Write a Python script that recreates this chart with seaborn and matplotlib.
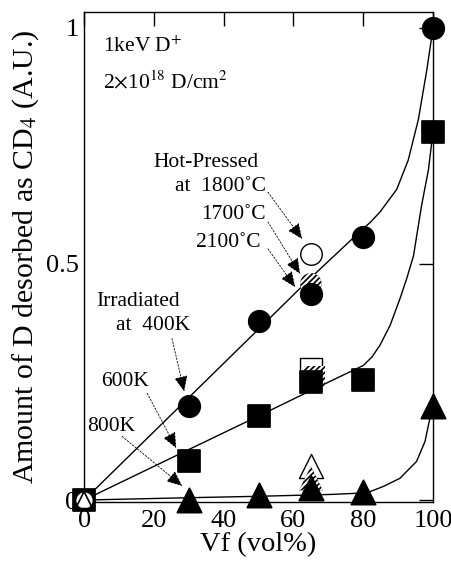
import matplotlib
matplotlib.use("Agg")
import matplotlib.pyplot as plt
import seaborn as sns
import pandas as pd

# ---- data ----
vf = [0, 30, 50, 65, 80, 100]
irr_400K = [0, 0.20, 0.38, 0.437, 0.557, 1.0]
irr_600K = [0, 0.082, 0.177, 0.25, 0.255, 0.78]
irr_800K = [0, 0.0, 0.011, 0.025, 0.018, 0.20]

hp_vf = [65]
hp1800_400 = [0.521]
hp1800_600 = [0.278]
hp1800_800 = [0.072]
hp1700_vf_sq = [66]
hp1700_400 = [0.458]
hp1700_600 = [0.261]
hp1700_800 = [0.046]

# fitted curves
fit400_x = [0, 30, 50, 65, 80, 82, 84.8, 87, 89.6, 92.9, 95.8, 98.2, 100]
fit400_y = [0, 0.217, 0.362, 0.471, 0.575, 0.588, 0.61, 0.632, 0.658, 0.72, 0.806, 0.91, 1.0]
fit600_x = [0, 30, 50, 65, 80, 82.5, 84.8, 87.7, 90.5, 92.5, 94.4, 96.7, 98.7, 100]
fit600_y = [0, 0.107, 0.178, 0.232, 0.285, 0.303, 0.328, 0.37, 0.426, 0.47, 0.517, 0.623, 0.70, 0.78]
fit800_x = [0, 30, 50, 71, 80, 82, 85.8, 90.5, 95.3, 97.7, 99.1, 100]
fit800_y = [0, 0.005, 0.008, 0.012, 0.015, 0.018, 0.029, 0.046, 0.082, 0.124, 0.173, 0.20]

x_ticks = [0, 20, 40, 60, 80, 100]
y_ticks = [0, 0.5, 1]
y_tick_labels = ["0", "0.5", "1"]

sns.set_theme(style="white")
plt.rcParams["font.family"] = ["Liberation Serif", "DejaVu Serif"]
plt.rcParams["mathtext.fontset"] = "stix"
plt.rcParams["hatch.linewidth"] = 1.6
plt.rcParams["hatch.color"] = "white"

fig = plt.figure(figsize=(4.52, 5.64), dpi=100)
ax = fig.add_axes([0.186, 0.110, 0.772, 0.869])

# curves
for fx, fy in [(fit400_x, fit400_y), (fit600_x, fit600_y), (fit800_x, fit800_y)]:
    sns.lineplot(x=fx, y=fy, ax=ax, color="black", lw=1.0, sort=False,
                 estimator=None, zorder=2)

S = 240
ST = 300
# hot-pressed open markers
sns.scatterplot(x=hp_vf, y=hp1800_400, ax=ax, marker="o", s=S, color="white",
                edgecolor="black", linewidth=1.0, zorder=3)
sns.scatterplot(x=hp_vf, y=hp1800_600, ax=ax, marker="s", s=S, color="white",
                edgecolor="black", linewidth=1.0, zorder=3)
sns.scatterplot(x=hp_vf, y=hp1800_800, ax=ax, marker="^", s=ST, color="white",
                edgecolor="black", linewidth=1.0, zorder=3)
# hot-pressed hatched markers (black with white stripes)
sns.scatterplot(x=hp_vf, y=hp1700_400, ax=ax, marker="o", s=S, color="black",
                edgecolor="white", linewidth=0.0, hatch="//////", zorder=4)
sns.scatterplot(x=hp1700_vf_sq, y=hp1700_600, ax=ax, marker="s", s=S, color="black",
                edgecolor="white", linewidth=0.0, hatch="//////", zorder=4)
sns.scatterplot(x=hp_vf, y=hp1700_800, ax=ax, marker="^", s=ST, color="black",
                edgecolor="white", linewidth=0.0, hatch="//////", zorder=4)

# irradiated filled markers
sns.scatterplot(x=vf[1:], y=irr_400K[1:], ax=ax, marker="o", s=S, color="black",
                edgecolor="black", zorder=5, clip_on=False)
sns.scatterplot(x=vf, y=irr_600K, ax=ax, marker="s", s=S, color="black",
                edgecolor="black", zorder=5, clip_on=False)
sns.scatterplot(x=vf[1:], y=irr_800K[1:], ax=ax, marker="^", s=ST, color="black",
                edgecolor="black", zorder=5, clip_on=False)
# origin: open circle and triangle on the filled square
sns.scatterplot(x=vf[:1], y=irr_400K[:1], ax=ax, marker="o", s=165, color="white",
                edgecolor="black", linewidth=1.2, zorder=6, clip_on=False)
sns.scatterplot(x=vf[:1], y=irr_800K[:1], ax=ax, marker="^", s=150, color="none",
                edgecolor="black", linewidth=1.2, zorder=7, clip_on=False)

ax.set_xlim(0, 100)
ax.set_ylim(-0.004, 1.034)
ax.set_xticks(x_ticks)
ax.set_xticklabels([str(t) for t in x_ticks])
ax.set_yticks(y_ticks)
ax.set_yticklabels(y_tick_labels)
ax.tick_params(axis="both", direction="in", length=10, width=1, color="black",
               labelsize=19, labelcolor="black", top=True, right=True)
ax.tick_params(axis="x", pad=6)
ax.tick_params(axis="y", pad=4)
for sp in ax.spines.values():
    sp.set_visible(True)
    sp.set_color("black")
    sp.set_linewidth(1.0)

ax.set_xlabel("Vf (vol%)", fontsize=20.5, color="black", labelpad=0)
ax.set_ylabel("Amount of D desorbed as CD$_4$ (A.U.)", fontsize=21.5, color="black",
              labelpad=3)

tk = dict(fontsize=15.5, color="black")
ax.text(5.5, 0.96, "1keV D$^{+}$", va="center", ha="left", **tk)
ax.text(5.5, 0.886, "2$\\times$10$^{18}$ D/cm$^{2}$", va="center", ha="left", **tk)

ax.text(49.9, 0.715, "Hot-Pressed", ha="right", va="center", **tk)
ax.text(52.2, 0.665, "at  1800\u02daC", ha="right", va="center", **tk)
ax.text(52.2, 0.605, "1700\u02daC", ha="right", va="center", **tk)
ax.text(50.7, 0.546, "2100\u02daC", ha="right", va="center", **tk)
ax.text(3.4, 0.42, "Irradiated", ha="left", va="center", **tk)
ax.text(9.2, 0.369, "at  400K", ha="left", va="center", **tk)
ax.text(4.9, 0.251, "600K", ha="left", va="center", **tk)
ax.text(0.9, 0.156, "800K", ha="left", va="center", **tk)

arrows = [((52.7, 0.652), (62.5, 0.553)),
          ((52.7, 0.589), (61.9, 0.479)),
          ((52.7, 0.532), (60.5, 0.451)),
          ((25.2, 0.342), (28.7, 0.23)),
          ((18.1, 0.226), (26.4, 0.11)),
          ((10.9, 0.135), (28.1, 0.03))]
for start, end in arrows:
    ax.annotate("", xy=end, xytext=start,
                arrowprops=dict(arrowstyle="-|>,head_length=0.8,head_width=0.35",
                                color="black", lw=0.6, ls=(0, (2, 2)),
                                shrinkA=0, shrinkB=0), zorder=8)

fig.savefig("out.png", dpi=100)
